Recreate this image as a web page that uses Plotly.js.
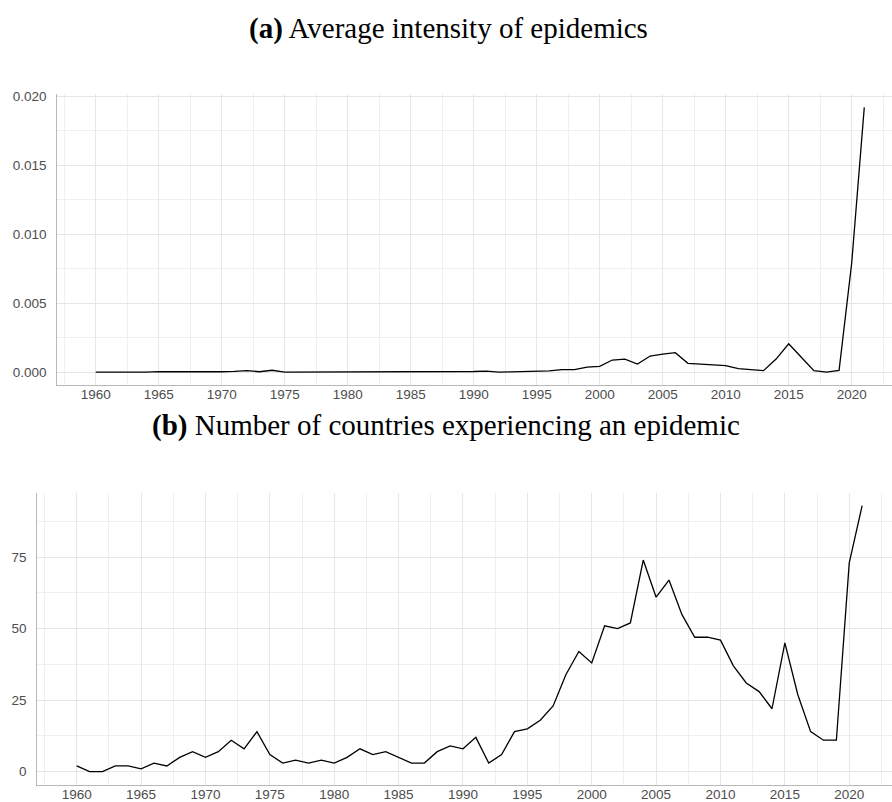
<!DOCTYPE html>
<html>
<head>
<meta charset="utf-8">
<script src="https://cdn.plot.ly/plotly-3.0.1.min.js"></script>
<style>html,body{margin:0;padding:0;background:#fff;}#chart{width:892px;height:802px;}</style>
</head>
<body>
<div id="chart"></div>
<script>
const years = [1960,1961,1962,1963,1964,1965,1966,1967,1968,1969,
  1970,1971,1972,1973,1974,1975,1976,1977,1978,1979,
  1980,1981,1982,1983,1984,1985,1986,1987,1988,1989,
  1990,1991,1992,1993,1994,1995,1996,1997,1998,1999,
  2000,2001,2002,2003,2004,2005,2006,2007,2008,2009,
  2010,2011,2012,2013,2014,2015,2016,2017,2018,2019,
  2020,2021];

const intensity = [0.00002,0.00001,0.00001,0.00001,0.00002,0.00005,0.00004,0.00003,0.00003,0.00006,
  0.00004,0.00007,0.00012,0.00004,0.00015,0.00002,0.00002,0.00002,0.00003,0.00002,
  0.00003,0.00003,0.00004,0.00004,0.00003,0.00002,0.00002,0.00003,0.00004,0.00006,
  0.00006,0.00009,0.00002,0.00003,0.00005,0.00006,0.00010,0.00020,0.00020,0.00038,
  0.00043,0.00089,0.00096,0.00060,0.00118,0.00132,0.00142,0.00065,0.00060,0.00058,
  0.00048,0.00026,0.00019,0.00012,0.00096,0.00207,0.00109,0.00012,0.00002,0.00014,
  0.00790,0.01920];

const countries = [2,0,0,2,2,1,3,2,5,7,
  5,7,11,8,14,6,3,4,3,4,
  3,5,8,6,7,5,3,3,7,9,
  8,12,3,6,14,15,18,23,34,42,
  38,51,50,52,74,61,67,55,47,47,
  46,37,31,28,22,45,27,14,11,11,
  73,93];

const titleA = "<b>(a)</b> Average intensity of epidemics";
const titleB = "<b>(b)</b> Number of countries experiencing an epidemic";

const W = 892, H = 802;
const tickFont = {family: "Liberation Sans, Arial, sans-serif", size: 13.5, color: "#4d4d4d"};
const titleFont = {family: "Liberation Serif, Times New Roman, serif", size: 29, color: "#000"};

function xax(domain, range, anchor) {
  return {
    domain: domain, range: range, anchor: anchor, tickmode: "linear", tick0: 1960, dtick: 5,
    showgrid: true, gridcolor: "#e6e6e6", gridwidth: 1,
    minor: {dtick: 2.5, tick0: 1960, showgrid: true, gridcolor: "#efefef", gridwidth: 1},
    zeroline: false, showline: true, linecolor: "#b8b8b8", linewidth: 1,
    ticks: "", tickfont: tickFont, ticklabelstandoff: -3, fixedrange: true
  };
}
function yax(domain, range, dtick, fmt, anchor) {
  return {
    domain: domain, range: range, anchor: anchor, tickmode: "linear", tick0: 0, dtick: dtick,
    tickformat: fmt,
    showgrid: true, gridcolor: "#e6e6e6", gridwidth: 1,
    minor: {dtick: dtick / 2, tick0: 0, showgrid: true, gridcolor: "#efefef", gridwidth: 1},
    zeroline: false, showline: true, linecolor: "#b8b8b8", linewidth: 1,
    ticks: "", tickfont: tickFont, ticklabelstandoff: 7, fixedrange: true
  };
}

const traces = [
  {x: years, y: intensity, type: "scatter", mode: "lines", line: {color: "#000", width: 1.3}, xaxis: "x", yaxis: "y", hoverinfo: "skip"},
  {x: years, y: countries, type: "scatter", mode: "lines", line: {color: "#000", width: 1.3}, xaxis: "x2", yaxis: "y2", hoverinfo: "skip"}
];

const layout = {
  width: W, height: H,
  margin: {l: 0, r: 0, t: 0, b: 0},
  paper_bgcolor: "#fff", plot_bgcolor: "#fff",
  showlegend: false,
  xaxis: xax([57.3 / W, 1], [1956.95, 2023.2], "y"),
  yaxis: yax([(H - 385) / H, (H - 94) / H], [-0.00092, 0.02017], 0.005, ".3f", "x"),
  xaxis2: xax([37.3 / W, 1], [1956.94, 2023.32], "y2"),
  yaxis2: yax([(H - 784.5) / H, (H - 492.5) / H], [-4.48, 97.6], 25, "d", "x2"),
  annotations: [
    {text: titleA, xref: "paper", yref: "paper", x: 449 / W, y: (H - 28) / H, xanchor: "center", yanchor: "middle", showarrow: false, font: titleFont},
    {text: titleB, xref: "paper", yref: "paper", x: 446 / W, y: (H - 425) / H, xanchor: "center", yanchor: "middle", showarrow: false, font: titleFont}
  ]
};

Plotly.newPlot("chart", traces, layout, {displayModeBar: false, staticPlot: true});
</script>
</body>
</html>
